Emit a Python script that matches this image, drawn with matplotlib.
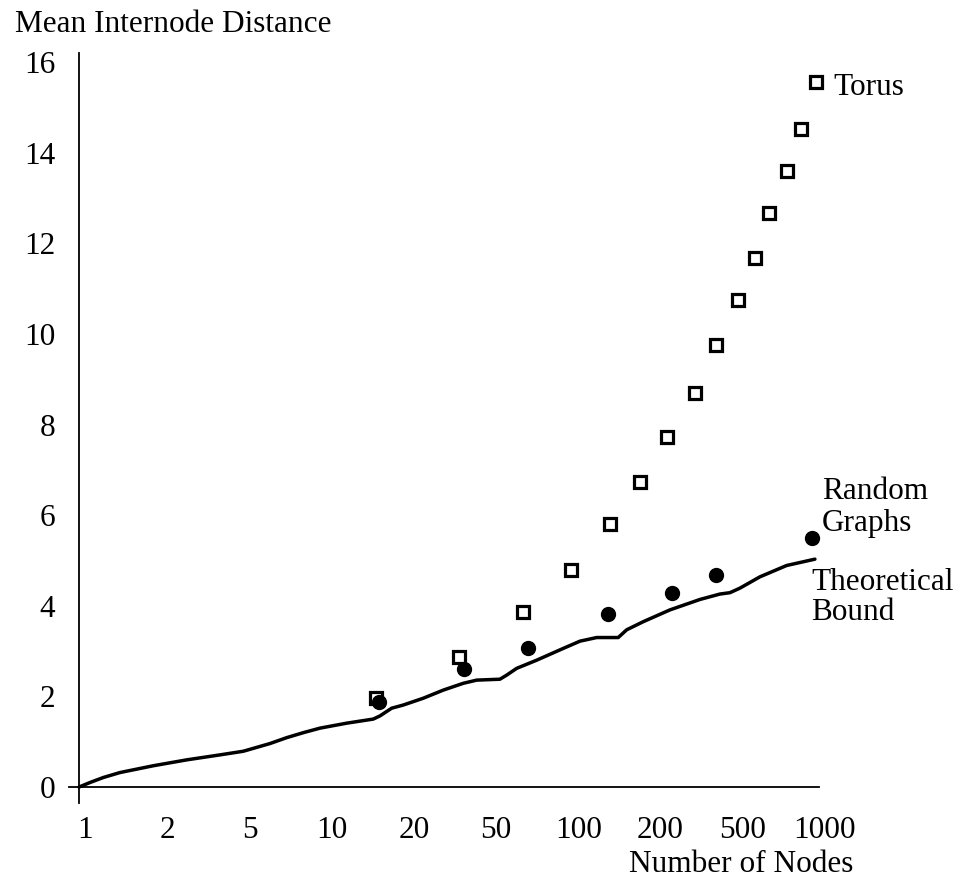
import numpy as np
import matplotlib
matplotlib.use("Agg")
import matplotlib.pyplot as plt
from matplotlib.ticker import FixedLocator, NullFormatter
from matplotlib.transforms import ScaledTranslation

plt.rcParams['font.family'] = ['Liberation Serif', 'DejaVu Serif']

# ---- data ----
torus_n = [16, 34.7, 62.9, 98.4, 142, 188, 241, 314, 382, 468, 551, 628, 743, 847, 969]
torus_d = [1.97, 2.88, 3.87, 4.79, 5.80, 6.74, 7.73, 8.70, 9.76, 10.74, 11.67, 12.66, 13.60, 14.53, 15.56]

random_n = [16.4, 36.5, 66.2, 140, 253, 382, 933]
random_d = [1.88, 2.60, 3.06, 3.81, 4.28, 4.68, 5.50]

bound_n = [1.0, 1.108, 1.254, 1.466, 2.001, 2.733, 3.729, 4.634, 5.946, 6.949, 8.115,
           9.482, 12.17, 15.59, 16.60, 18.51, 20.63, 24.86, 29.99, 36.13, 40.94, 50.87,
           54.16, 59.48, 71.68, 91.88, 107.4, 125.5, 153.5, 166.0, 193.9, 248.7, 329.0,
           396.6, 435.5, 478.0, 576.1, 739.2, 962.6]
bound_d = [0.0, 0.10, 0.21, 0.32, 0.47, 0.60, 0.71, 0.79, 0.96, 1.09, 1.20,
           1.30, 1.41, 1.50, 1.57, 1.74, 1.81, 1.96, 2.14, 2.29, 2.36, 2.38,
           2.47, 2.62, 2.80, 3.06, 3.22, 3.30, 3.30, 3.47, 3.65, 3.91, 4.14,
           4.26, 4.29, 4.39, 4.64, 4.89, 5.03]

x_tick_labels = ["1", "2", "5", "10", "20", "50", "100", "200", "500", "1000"]
y_ticks = [0, 2, 4, 6, 8, 10, 12, 14, 16]

FS = 22.5

fig = plt.figure(figsize=(9.58, 8.8), dpi=100)
W, H = 958, 880
# axes placement in pixels
x_lo_px, x_hi_px = 69, 819
y_top_px, y_bot_px = 53.1, 802.9
ax = fig.add_axes([x_lo_px / W, 1 - y_bot_px / H, (x_hi_px - x_lo_px) / W, (y_bot_px - y_top_px) / H])
ax.set_xscale('log')
ax.set_xlim(10 ** (-10 / 246.7), 1000)
ax.set_ylim(-0.35, 16.2)

for s in ['top', 'right']:
    ax.spines[s].set_visible(False)
ax.spines['left'].set_position(('data', 1))
ax.spines['bottom'].set_position(('data', 0))
ax.spines['left'].set_linewidth(1.3)
ax.spines['bottom'].set_linewidth(1.3)

# x ticks: labels evenly spaced along the log axis, as in the reference
tick_pos = [10 ** (i / 3) for i in range(len(x_tick_labels))]
ax.xaxis.set_major_locator(FixedLocator(tick_pos))
ax.set_xticklabels(x_tick_labels)
ax.xaxis.set_minor_locator(FixedLocator([1000]))
ax.xaxis.set_minor_formatter(NullFormatter())
ax.tick_params(axis='x', which='major', length=0, pad=21, labelsize=FS)
ax.tick_params(axis='x', which='minor', length=17, width=1.3, direction='inout')
off = ScaledTranslation(6 / 100, 0, fig.dpi_scale_trans)
for lab in ax.get_xticklabels():
    lab.set_transform(lab.get_transform() + off)

ax.set_yticks(y_ticks)
ax.tick_params(axis='y', length=0, pad=17, labelsize=FS)

# data
ax.plot(bound_n, bound_d, color='black', lw=2.5, solid_capstyle='round',
        solid_joinstyle='round', clip_on=False)
ax.plot(torus_n, torus_d, linestyle='none', marker='s', ms=8, mew=2.3,
        mfc='white', mec='black', clip_on=False)
ax.plot(random_n, random_d, linestyle='none', marker='o', ms=10, mfc='black',
        mec='black', clip_on=False)

# texts
def ftext(x_px, y_px, s, **kw):
    fig.text(x_px / W, 1 - y_px / H, s, fontsize=FS, va='baseline', **kw)

ftext(15, 32, "Mean Internode Distance", ha='left')
ftext(853, 872, "Number of Nodes", ha='right')
ftext(833, 95, "Torus", ha='left')
ftext(822, 499, "Random", ha='left')
ftext(822, 531, "Graphs", ha='left')
ftext(811, 590, "Theoretical", ha='left')
ftext(811, 620, "Bound", ha='left')

fig.savefig("out.png", dpi=100)
